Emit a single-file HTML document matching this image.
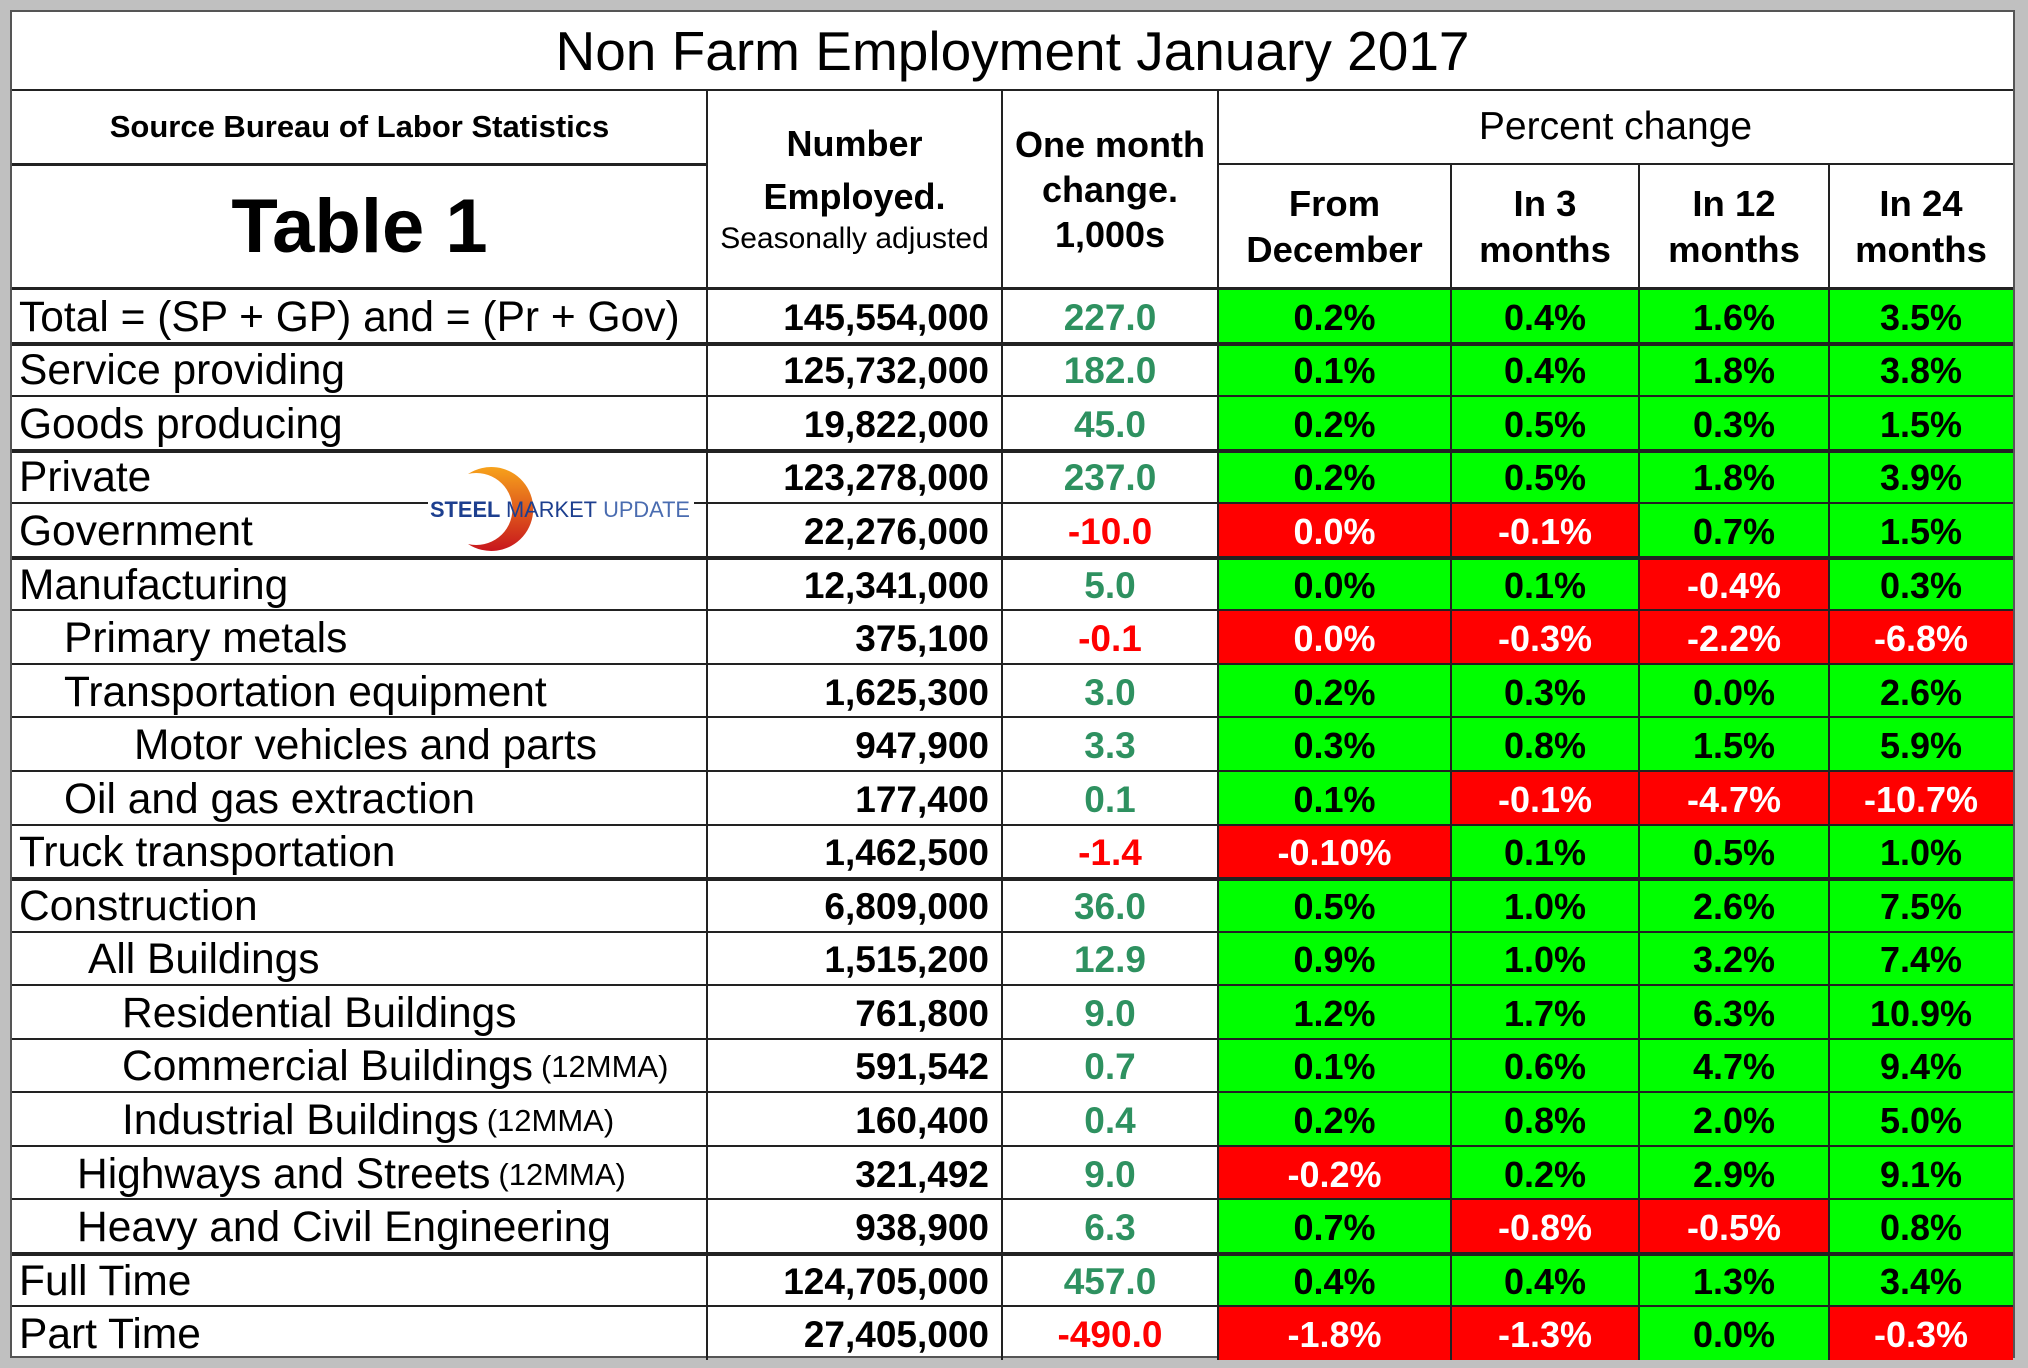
<!DOCTYPE html>
<html><head><meta charset="utf-8"><style>
body{margin:0;width:2028px;height:1368px;background:#c0c0c0;position:relative;overflow:hidden;font-family:"Liberation Sans",Arial,sans-serif}
#tbl{position:absolute;left:10px;top:10px;width:2005px;height:1348px;background:#fff;border:2px solid #555;box-sizing:border-box}
.c{position:absolute;box-sizing:border-box;display:flex;align-items:center;white-space:nowrap}
.ln{position:absolute;background:#222}
</style></head><body>
<div id="tbl"></div>
<script>
const labels=["Total = (SP + GP) and = (Pr + Gov)","Service providing","Goods producing","Private","Government","Manufacturing","Primary metals","Transportation equipment","Motor vehicles and parts","Oil and gas extraction","Truck transportation","Construction","All Buildings","Residential Buildings","Commercial Buildings","Industrial Buildings","Highways and Streets","Heavy and Civil Engineering","Full Time","Part Time"];
const suffix=["","","","","","","","","","","","","","","(12MMA)","(12MMA)","(12MMA)","","",""];
const indentLevel=[0,0,0,0,0,0,1,1,4,1,0,0,2,3,3,3,5,5,0,0];
const indentPx=[0,45,69,103,115,58];
const employed=["145,554,000","125,732,000","19,822,000","123,278,000","22,276,000","12,341,000","375,100","1,625,300","947,900","177,400","1,462,500","6,809,000","1,515,200","761,800","591,542","160,400","321,492","938,900","124,705,000","27,405,000"];
const monthChange=["227.0","182.0","45.0","237.0","-10.0","5.0","-0.1","3.0","3.3","0.1","-1.4","36.0","12.9","9.0","0.7","0.4","9.0","6.3","457.0","-490.0"];
const fromDec=["0.2%","0.1%","0.2%","0.2%","0.0%","0.0%","0.0%","0.2%","0.3%","0.1%","-0.10%","0.5%","0.9%","1.2%","0.1%","0.2%","-0.2%","0.7%","0.4%","-1.8%"];
const in3=["0.4%","0.4%","0.5%","0.5%","-0.1%","0.1%","-0.3%","0.3%","0.8%","-0.1%","0.1%","1.0%","1.0%","1.7%","0.6%","0.8%","0.2%","-0.8%","0.4%","-1.3%"];
const in12=["1.6%","1.8%","0.3%","1.8%","0.7%","-0.4%","-2.2%","0.0%","1.5%","-4.7%","0.5%","2.6%","3.2%","6.3%","4.7%","2.0%","2.9%","-0.5%","1.3%","0.0%"];
const in24=["3.5%","3.8%","1.5%","3.9%","1.5%","0.3%","-6.8%","2.6%","5.9%","-10.7%","1.0%","7.5%","7.4%","10.9%","9.4%","5.0%","9.1%","0.8%","3.4%","-0.3%"];
const redCells=[[],[],[],[],[0,1],[2],[0,1,2,3],[],[],[1,2,3],[0],[],[],[],[],[],[0],[1,2],[],[0,1,3]];
const T=document.getElementById('tbl');
const X=[0,695,990,1206,1439,1627,1817,2001];
const top0=277, rh=53.55;
function cell(x,y,w,h,txt,css,name){const d=document.createElement('div');d.className='c';d.style.cssText=`left:${x}px;top:${y}px;width:${w}px;height:${h}px;`+css;d.innerHTML=txt;


T.appendChild(d);return d;}
function line(x,y,w,h){const d=document.createElement('div');d.className='ln';d.style.cssText=`left:${x}px;top:${y}px;width:${w}px;height:${h}px`;


T.appendChild(d);}
cell(0,0,2001,78,"Non Farm Employment January 2017","justify-content:center;font-size:55px;",'table-title');
cell(0,78,695,74,"Source Bureau of Labor Statistics","justify-content:center;font-size:31px;font-weight:bold;",'source-note');
cell(0,152,695,125,"Table 1","justify-content:center;font-size:76px;font-weight:bold;",'table-name');
cell(695,78,295,199,"<div style='text-align:center;line-height:45px;margin-top:14px'><b style='font-size:36px'>Number<br>Employed.</b><br><span style='font-size:30px;line-height:26px;position:relative;top:-6px'>Seasonally adjusted</span></div>","justify-content:center;",'number-employed-header');
cell(990,78,216,199,"<div style='text-align:center;font-weight:bold;font-size:36px;line-height:45px'>One month<br>change.<br>1,000s</div>","justify-content:center;",'one-month-change-header');
cell(1206,78,795,74,"Percent change","justify-content:center;font-size:39px;",'percent-change-header');
const ph=["From<br>December","In 3<br>months","In 12<br>months","In 24<br>months"];
for(let j=0;j<4;j++)cell(X[3+j],152,X[4+j]-X[3+j],125,`<div style='text-align:center;font-weight:bold;font-size:36.5px;line-height:46px'>${ph[j]}</div>`,"justify-content:center;",'percent-header-'+j);
const cols=[fromDec,in3,in12,in24];
for(let i=0;i<20;i++){const y=top0+i*rh;
 cell(7+indentPx[indentLevel[i]],y,690,rh,labels[i]+(suffix[i]?` <span style="font-size:31px;margin-left:8px">${suffix[i]}</span>`:''),"font-size:42.5px;padding-top:4px",'row-label');
 cell(695,y,282,rh,employed[i],"justify-content:flex-end;font-size:37px;font-weight:bold;padding-top:4px",'employed-value');
 const neg=monthChange[i].startsWith('-');
 cell(990,y,216,rh,monthChange[i],`justify-content:center;font-size:37px;font-weight:bold;padding-top:4px;color:${neg?'#f00':'#2e9160'}`,'month-change-value');
 for(let j=0;j<4;j++){const red=redCells[i].includes(j);
  cell(X[3+j],y,X[4+j]-X[3+j],rh,cols[j][i],`justify-content:center;font-size:36px;font-weight:bold;padding-top:4px;background:${red?'#f00':'#0f0'};color:${red?'#fff':'#000'}`,'pct-cell');}
}
line(0,77,2001,2);
line(0,151,695,3);line(1206,151,795,2);
line(0,top0-2,2001,3);
const dbl=[1,3,5,11,18];
for(let i=1;i<20;i++){const y=Math.round(top0+i*rh);line(0,y-1,2001,dbl.includes(i)?4:2);}
for(let k=1;k<4;k++){line(X[k]-1,78,2,1270);}
for(let k=4;k<7;k++){line(X[k]-1,152,2,1196);}
</script>
<svg style="position:absolute;left:0;top:0" width="2028" height="1368">
<defs><linearGradient id="g" x1="0" y1="0" x2="0" y2="1"><stop offset="0" stop-color="#f7a21b"/><stop offset="1" stop-color="#c8161d"/></linearGradient></defs>
<rect x="428" y="494" width="266" height="28" fill="#fff"/>
<path d="M468,474 A42,42 0 1 1 468,544 A36,36 0 1 0 468,474Z" fill="url(#g)"/>
<text x="430" y="517" font-family="Liberation Sans" font-size="22" font-weight="bold" fill="#1d3f8f" textLength="260" lengthAdjust="spacingAndGlyphs">STEEL <tspan font-weight="normal" fill="#1d3f8f">MARKET</tspan> <tspan font-weight="normal" fill="#4a6cb0">UPDATE</tspan></text>
</svg>
</body></html>
